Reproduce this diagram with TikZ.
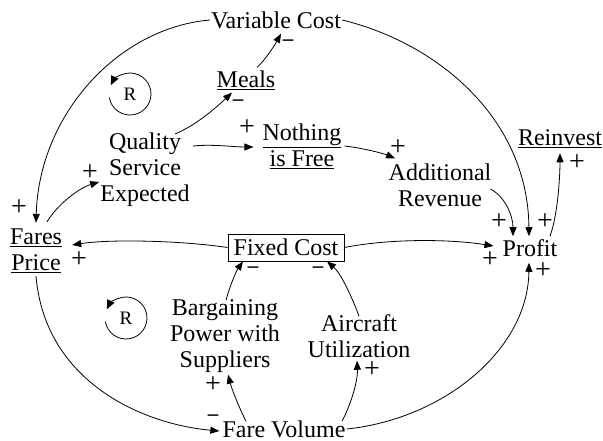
\documentclass[tikz,border=0pt]{standalone}
\usepackage{fontspec}
\setmainfont{Liberation Serif}
\usetikzlibrary{arrows.meta}
\begin{document}
\begin{tikzpicture}[x=1pt,y=-1pt,
  lbl/.style={align=center,inner sep=1pt,font=\fontsize{24}{26}\selectfont},
  arr/.style={draw,line width=0.8pt,-{Triangle[length=9pt,width=7pt]}},
  sgnp/.style={inner sep=0pt,font=\fontsize{28}{28}\selectfont},
  sgnm/.style={inner sep=0pt,font=\bfseries\fontsize{21}{21}\selectfont},
  loopc/.style={line width=0.8pt,-{Triangle[length=9pt,width=8pt]}},
  rl/.style={inner sep=0pt,font=\fontsize{19}{19}\selectfont}]
\useasboundingbox (0,0) rectangle (603,441);

% nodes
\node[lbl] (vc) at (276,20) {Variable Cost};
\node[lbl] (meals) at (246,80) {\underline{Meals}};
\node[lbl] (qse) at (145,170) {Quality\\Service\\Expected};
\node[lbl] (nif) at (302,146) {\underline{Nothing}\\\underline{is Free}};
\node[lbl] (ar) at (440,185) {Additional\\Revenue};
\node[lbl] (rein) at (560,139) {\underline{Reinvest}};
\node[lbl] (profit) at (530,248) {Profit};
\node[lbl] (fp) at (36,251) {\underline{Fares}\\\underline{Price}};
\node[lbl,draw,line width=0.8pt,minimum width=116pt,minimum height=27pt,inner sep=0pt] (fc) at (286,247.5) {Fixed Cost};
\node[lbl] (bps) at (225,336) {Bargaining\\Power with\\Suppliers};
\node[lbl] (au) at (359,336) {Aircraft\\Utilization};
\node[lbl] (fv) at (284,429) {Fare Volume};

% connectors
\draw[arr] (vc.west) .. controls +(-92,8) and +(3,-108) .. ([yshift=5pt]fp.north);
\draw[arr] (vc.east) .. controls +(95,23) and +(-1,-118) .. ([xshift=-1pt,yshift=2pt]profit.north);
\draw[arr] ([xshift=-2pt,yshift=-4pt]ar.east) .. controls +(15,8) and +(0,-20) .. ([xshift=-17pt,yshift=2pt]profit.north);
\draw[arr] ([xshift=20pt,yshift=2pt]profit.north) .. controls +(8,-22) and +(0,22) .. ([yshift=-4pt]rein.south);
\draw[arr] ([xshift=2pt]nif.east) .. controls +(18,2) and +(-12,-5) .. ([xshift=-45pt,yshift=4pt]ar.north);
\draw[arr] ([xshift=2pt,yshift=24pt]qse.east) .. controls +(20,-2) and +(-20,0) .. ([xshift=-8pt,yshift=-1pt]nif.west);
\draw[arr] ([xshift=30pt,yshift=-2pt]qse.north) .. controls +(20,-8) and +(-17,16) .. ([xshift=-14pt,yshift=-2pt]meals.south);
\draw[arr] ([xshift=11pt,yshift=2pt]meals.north) .. controls +(8,-7) and +(-6,11) .. ([xshift=5pt,yshift=-4pt]vc.south);
\draw[arr] ([xshift=11pt,yshift=6pt]fp.north) .. controls +(11,-18) and +(-20,6) .. ([yshift=-12pt]qse.west);
\draw[arr] (fc.west) .. controls +(-47,-7) and +(38,-6) .. ([xshift=9pt,yshift=6pt]fp.east);
\draw[arr] (fc.east) .. controls +(46,-9) and +(-44,-7) .. ([xshift=-8pt,yshift=2pt]profit.west);
\draw[arr] ([xshift=1pt,yshift=-2pt]bps.north) .. controls +(3,-12) and +(-7,10) .. ([xshift=-43pt]fc.south);
\draw[arr] ([yshift=-3pt]au.north) .. controls +(-6,-17) and +(14,12) .. ([xshift=41pt]fc.south);
\draw[arr] ([yshift=-2pt]fp.south) .. controls +(9,105) and +(-78,-7) .. ([xshift=-2pt,yshift=-2pt]fv.west);
\draw[arr] ([xshift=-38pt,yshift=-2pt]fv.north) .. controls +(-7,-14) and +(4,15) .. ([xshift=3pt,yshift=-1pt]bps.south);
\draw[arr] ([xshift=58pt,yshift=-2pt]fv.north) .. controls +(8,-15) and +(1,21) .. ([xshift=-2pt,yshift=-2pt]au.south);
\draw[arr] (fv.east) .. controls +(97,-10) and +(-1,87) .. ([xshift=-1pt,yshift=-5pt]profit.south);

% polarity signs
\node[sgnp] (s1) at (19,208) {+};
\node[sgnm] (s2) at (288,43) {–};
\node[sgnm] (s3) at (238,103) {–};
\node[sgnp] (s4) at (247,128) {+};
\node[sgnp] (s5) at (398,148) {+};
\node[sgnp] (s6) at (90,173) {+};
\node[sgnp] (s7) at (577,163) {+};
\node[sgnp] (s8) at (499,222) {+};
\node[sgnp] (s9) at (545,222) {+};
\node[sgnp] (s10) at (490,260) {+};
\node[sgnp] (s11) at (543,271) {+};
\node[sgnp] (s12) at (79,260) {+};
\node[sgnm] (s13) at (253,270) {–};
\node[sgnm] (s14) at (318,270) {–};
\node[sgnp] (s15) at (213,385) {+};
\node[sgnm] (s16) at (213,418) {–};
\node[sgnp] (s17) at (372,370) {+};

% loop markers
\coordinate (c1) at (130,94);
\coordinate (c2) at (126,318);
\node[rl] (r1) at (c1) {R};
\draw[loopc] ([shift={(-190:21)}]c1) arc[start angle=-190, end angle=-515, radius=21];
\node[rl] (r2) at (c2) {R};
\draw[loopc] ([shift={(-190:21)}]c2) arc[start angle=-190, end angle=-515, radius=21];
\end{tikzpicture}
\end{document}
